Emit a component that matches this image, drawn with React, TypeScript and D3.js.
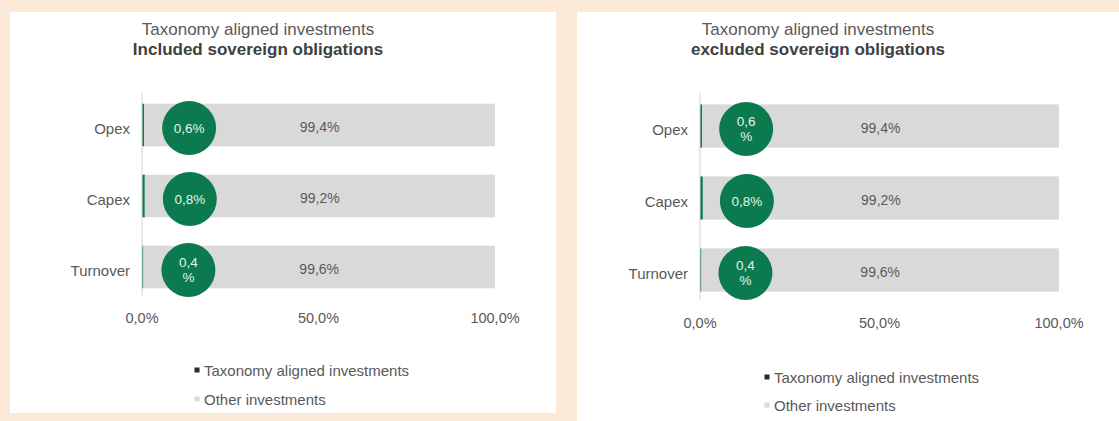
import React from "react";
import * as d3 from "d3";

const categories = ["Opex", "Capex", "Turnover"];
const includedAligned = [0.6, 0.8, 0.4];
const includedOther = [99.4, 99.2, 99.6];
const excludedAligned = [0.6, 0.8, 0.4];
const excludedOther = [99.4, 99.2, 99.6];
const xTicks = [0, 50, 100];
const legendLabels = ["Taxonomy aligned investments", "Other investments"];
// how the bubble labels wrap in the original
const includedBubbleLines = [["0,6%"], ["0,8%"], ["0,4", "%"]];
const excludedBubbleLines = [["0,6", "%"], ["0,8%"], ["0,4", "%"]];

const GREEN = "#0b7a4f";
const GRAY = "#d9d9d9";
const TEXT = "#595959";
const FONT = "'Liberation Sans', Arial, sans-serif";

const fmt = (v: number) => d3.format(".1f")(v).replace(".", ",") + "%";

type PanelProps = {
  box: { x: number; y: number; w: number; h: number };
  subtitle: string;
  titleX: number;
  xRange: [number, number];
  yRange: [number, number];
  axisY: [number, number];
  tickY: number;
  legendX: number;
  legendY: [number, number];
  bubbleDx: number;
  aligned: number[];
  other: number[];
  bubbleLines: string[][];
};

const Panel = (p: PanelProps) => {
  const x = d3.scaleLinear().domain([0, 100]).range(p.xRange);
  const y = d3
    .scaleBand()
    .domain(categories)
    .range(p.yRange)
    .paddingInner(0.4)
    .paddingOuter(0.2);
  const bw = y.bandwidth();

  return (
    <g fontFamily={FONT}>
      <rect x={p.box.x} y={p.box.y} width={p.box.w} height={p.box.h} fill="#fff" />
      <text x={p.titleX} y={35} textAnchor="middle" fontSize={17} fill={TEXT}>
        Taxonomy aligned investments
      </text>
      <text x={p.titleX} y={55} textAnchor="middle" fontSize={17} fontWeight="bold" fill="#404040">
        {p.subtitle}
      </text>

      {categories.map((c, i) => {
        const y0 = y(c)!;
        const cy = y0 + bw / 2;
        const a = p.aligned[i];
        const o = p.other[i];
        const lines = p.bubbleLines[i];
        const bx = x(a) + p.bubbleDx;
        return (
          <g key={c}>
            <rect x={x(0)} y={y0} width={x(a) - x(0)} height={bw} fill={GREEN} />
            <rect x={x(a)} y={y0} width={x(a + o) - x(a)} height={bw} fill={GRAY} />
            <text
              x={x(0) - 12}
              y={cy + 3}
              textAnchor="end"
              dominantBaseline="central"
              fontSize={15}
              fill={TEXT}
            >
              {c}
            </text>
            <text
              x={x(a + o / 2)}
              y={cy + 2}
              textAnchor="middle"
              dominantBaseline="central"
              fontSize={14}
              fill={TEXT}
            >
              {fmt(o)}
            </text>
            <circle cx={bx} cy={cy + 3} r={27} fill={GREEN} />
            {lines.map((l, j) => (
              <text
                key={j}
                x={bx}
                y={cy + 3 + (j - (lines.length - 1) / 2) * 15}
                textAnchor="middle"
                dominantBaseline="central"
                fontSize={13.5}
                fill="#e4f4ea"
              >
                {l}
              </text>
            ))}
          </g>
        );
      })}

      <line
        x1={x(0)}
        x2={x(0)}
        y1={p.axisY[0]}
        y2={p.axisY[1]}
        stroke="#d4d4d4"
        strokeWidth={1}
      />

      {xTicks.map((t) => (
        <text key={t} x={x(t)} y={p.tickY} textAnchor="middle" fontSize={14.5} fill={TEXT}>
          {fmt(t)}
        </text>
      ))}

      {legendLabels.map((l, i) => (
        <g key={l}>
          <rect
            x={p.legendX - 2.5}
            y={p.legendY[i] - 2.5}
            width={5}
            height={5}
            fill={i === 0 ? "#1f2f28" : GRAY}
          />
          <text
            x={p.legendX + 7}
            y={p.legendY[i]}
            dominantBaseline="central"
            fontSize={15}
            fill={TEXT}
          >
            {l}
          </text>
        </g>
      ))}
    </g>
  );
};

export default function App() {
  return (
    <svg
      width={1119}
      height={421}
      style={{ position: "absolute", left: 0, top: 0, display: "block" }}
    >
      <rect width={1119} height={421} fill="#fbe8d6" />
      <Panel
        box={{ x: 10, y: 12, w: 546, h: 401 }}
        subtitle="Included sovereign obligations"
        titleX={258}
        xRange={[142, 495]}
        yRange={[89.5, 302.5]}
        axisY={[93, 296]}
        tickY={323}
        legendX={197}
        legendY={[370, 399]}
        bubbleDx={45}
        aligned={includedAligned}
        other={includedOther}
        bubbleLines={includedBubbleLines}
      />
      <Panel
        box={{ x: 577, y: 12, w: 542, h: 409 }}
        subtitle="excluded sovereign obligations"
        titleX={818}
        xRange={[700, 1059]}
        yRange={[90, 306]}
        axisY={[93, 300]}
        tickY={328}
        legendX={767}
        legendY={[377, 405]}
        bubbleDx={44}
        aligned={excludedAligned}
        other={excludedOther}
        bubbleLines={excludedBubbleLines}
      />
    </svg>
  );
}
